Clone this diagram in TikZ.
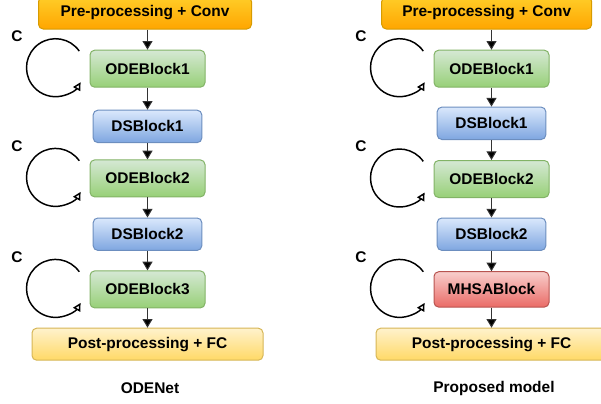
\documentclass[tikz,border=0pt]{standalone}
\usepackage{fontspec}
\setmainfont{Liberation Sans}
\usepackage{xcolor}
\usepackage{tikz}
\usetikzlibrary{arrows.meta,calc}
\definecolor{orangetop}{HTML}{FFCD28}
\definecolor{orangebot}{HTML}{FFA500}
\definecolor{orangeline}{HTML}{D79B00}
\definecolor{greentop}{HTML}{D5E8D4}
\definecolor{greenbot}{HTML}{97D077}
\definecolor{greenline}{HTML}{82B366}
\definecolor{bluetop}{HTML}{DAE8FC}
\definecolor{bluebot}{HTML}{7EA6E0}
\definecolor{blueline}{HTML}{6C8EBF}
\definecolor{yellowtop}{HTML}{FFF2CC}
\definecolor{yellowbot}{HTML}{FFD966}
\definecolor{yellowline}{HTML}{D6B656}
\definecolor{redtop}{HTML}{F8CECC}
\definecolor{redbot}{HTML}{EA6B66}
\definecolor{redline}{HTML}{B85450}
\tikzset{
  block/.style={rounded corners=3.5pt, line width=0.75pt, inner sep=0pt,
    font=\fontsize{11.6}{13.5}\selectfont\bfseries},
  preblk/.style={block, draw=orangeline, top color=orangetop, bottom color=orangebot,
    minimum width=159.75pt, minimum height=24pt},
  odeblk/.style={block, draw=greenline, top color=greentop, bottom color=greenbot,
    minimum width=86.25pt, minimum height=27.75pt},
  dsblk/.style={block, draw=blueline, top color=bluetop, bottom color=bluebot,
    minimum width=81.5pt, minimum height=24.3pt},
  attblk/.style={block, draw=redline, top color=redtop, bottom color=redbot,
    minimum width=86.25pt, minimum height=26.5pt},
  postblk/.style={block, draw=yellowline, top color=yellowtop, bottom color=yellowbot,
    minimum width=173.25pt, minimum height=24pt},
  flow/.style={draw=black!80, line width=0.75pt, -{Triangle[length=6.5pt,width=7.5pt,fill=black]}},
  loopline/.style={draw=black, line width=1.1pt, -{Triangle[open,length=6pt,width=6pt,fill=white]}},
  clab/.style={font=\fontsize{11.6}{13.5}\selectfont\bfseries},
  title/.style={font=\fontsize{11.6}{13.5}\selectfont\bfseries}
}
\begin{document}
\begin{tikzpicture}[x=0.75pt,y=0.75pt]
  \useasboundingbox (0,0) rectangle (601,-404);

  % ODENet
  \node[preblk] (preA) at (145,-13) {Pre-processing + Conv};
  \node[odeblk] (odeA1) at (147.5,-68.7) {ODEBlock1};
  \node[dsblk] (dsA1) at (147.5,-126.4) {DSBlock1};
  \node[odeblk] (odeA2) at (147.5,-178.4) {ODEBlock2};
  \node[dsblk] (dsA2) at (147.5,-234.2) {DSBlock2};
  \node[odeblk] (odeA3) at (147.5,-289.4) {ODEBlock3};
  \node[postblk] (postA) at (147.5,-344.2) {Post-processing + FC};
  \node[title] (titleA) at (150,-388) {ODENet};

  \draw[flow] (preA.south -| odeA1) -- (odeA1);
  \draw[flow] (odeA1) -- (dsA1);
  \draw[flow] (dsA1) -- (odeA2);
  \draw[flow] (odeA2) -- (dsA2);
  \draw[flow] (dsA2) -- (odeA3);
  \draw[flow] (odeA3) -- (postA);

  % proposed model
  \node[preblk, minimum width=157.5pt] (preB) at (486.7,-13) {Pre-processing + Conv};
  \node[odeblk] (odeB1) at (491.5,-68.7) {ODEBlock1};
  \node[dsblk] (dsB1) at (491.5,-123.3) {DSBlock1};
  \node[odeblk] (odeB2) at (491.5,-179) {ODEBlock2};
  \node[dsblk] (dsB2) at (491.5,-234.2) {DSBlock2};
  \node[attblk] (mhsa) at (491.5,-289.4) {MHSABlock};
  \node[postblk] (postB) at (491.5,-344.2) {Post-processing + FC};
  \node[title] (titleB) at (494,-388) {Proposed model};

  \draw[flow] (preB.south -| odeB1) -- (odeB1);
  \draw[flow] (odeB1) -- (dsB1);
  \draw[flow] (dsB1) -- (odeB2);
  \draw[flow] (odeB2) -- (dsB2);
  \draw[flow] (dsB2) -- (mhsa);
  \draw[flow] (mhsa) -- (postB);

  % repeated blocks
  \foreach \b in {odeA1,odeA2,odeA3,odeB1,odeB2,mhsa} {
    \coordinate (\b-c) at ([xshift=-25.5pt,yshift=0.75pt]\b.west);
    \draw[loopline] (\b-c) ++(35:21.75pt) arc[start angle=35,end angle=330,radius=21.75pt];
    \node[clab] (\b-lab) at ([xshift=-54.4pt,yshift=24.4pt]\b.west) {C};
  }
\end{tikzpicture}
\end{document}
